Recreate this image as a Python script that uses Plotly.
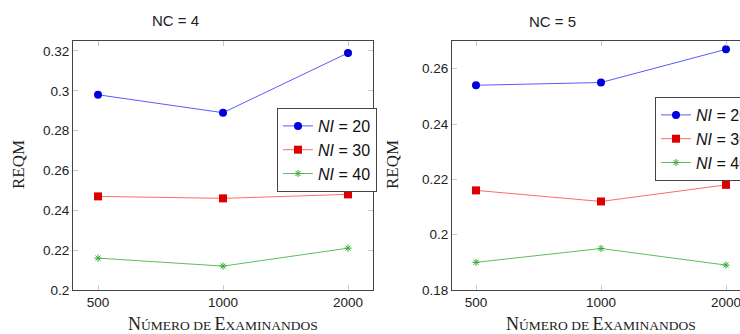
import plotly.graph_objects as go

categories = ["500", "1000", "2000"]
ni_labels = ["20", "30", "40"]

nc4_ni20 = [0.298, 0.289, 0.319]
nc4_ni30 = [0.247, 0.246, 0.248]
nc4_ni40 = [0.216, 0.212, 0.221]

nc5_ni20 = [0.254, 0.255, 0.267]
nc5_ni30 = [0.216, 0.212, 0.218]
nc5_ni40 = [0.190, 0.195, 0.189]

left_yticks = [0.2, 0.22, 0.24, 0.26, 0.28, 0.3, 0.32]
right_yticks = [0.18, 0.2, 0.22, 0.24, 0.26]

W, H = 740, 334
SANS = "Liberation Sans"
SERIF = "Liberation Serif"


def px(x):
    return x / W


def py(y):
    return 1 - y / H


styles = [
    dict(line=dict(color="#5a5aff", width=1),
         marker=dict(symbol="circle", size=8, color="#0000dd")),
    dict(line=dict(color="#ff6a6a", width=1),
         marker=dict(symbol="square", size=8, color="#dd0000")),
    dict(line=dict(color="#5cbf5c", width=1),
         marker=dict(symbol="asterisk-open", size=6, color="#33aa33",
                     line=dict(color="#33aa33", width=1))),
]

fig = go.Figure()
for sub, series, leg in [("", [nc4_ni20, nc4_ni30, nc4_ni40], "legend"),
                         ("2", [nc5_ni20, nc5_ni30, nc5_ni40], "legend2")]:
    for vals, lab, st in zip(series, ni_labels, styles):
        fig.add_trace(go.Scatter(
            x=categories, y=vals, mode="lines+markers",
            name=f"<i>NI</i> = {lab}", xaxis="x" + sub, yaxis="y" + sub,
            legend=leg, line=st["line"], marker=st["marker"]))

ydom = [py(290), py(41)]
tick_common = dict(ticks="inside", ticklen=5, tickcolor="#c8c8c8", tickwidth=1,
                   showgrid=False, zeroline=False, showline=True,
                   linecolor="#444444", linewidth=1,
                   tickfont=dict(family=SANS, size=13.5, color="#222222"))

fig.update_layout(
    width=W, height=H,
    margin=dict(l=0, r=0, t=0, b=0, autoexpand=False),
    paper_bgcolor="white", plot_bgcolor="white",
    xaxis=dict(domain=[px(73), px(373)], type="category", range=[-0.2, 2.2],
               anchor="y", mirror="ticks", **tick_common),
    yaxis=dict(domain=ydom, range=[0.2, 0.325], anchor="x", mirror="ticks",
               tickvals=left_yticks, ticktext=[f"{v:g}" for v in left_yticks],
               **tick_common),
    xaxis2=dict(domain=[px(452), 1.0], type="category", range=[-0.192, 2.112],
                anchor="y2", mirror="ticks", **tick_common),
    yaxis2=dict(domain=ydom, range=[0.18, 0.27], anchor="x2", mirror=False,
                tickvals=right_yticks, ticktext=[f"{v:g}" for v in right_yticks],
                **tick_common),
    legend=dict(x=px(277), y=py(108), xanchor="left", yanchor="top",
                bgcolor="white", bordercolor="#444444", borderwidth=1,
                font=dict(family=SANS, size=16, color="#111111"),
                tracegroupgap=0),
    legend2=dict(x=px(655), y=py(97), xanchor="left", yanchor="top",
                 bgcolor="white", bordercolor="#444444", borderwidth=1,
                 font=dict(family=SANS, size=16, color="#111111"),
                 tracegroupgap=0),
)

xtitle = ('N<span style="font-size:13.5px">ÚMERO DE </span>'
          'E<span style="font-size:13.5px">XAMINANDOS</span>')

annots = [
    dict(text="NC = 4", x=px(175), y=py(20), font=dict(family=SANS, size=15)),
    dict(text="NC = 5", x=px(552), y=py(21), font=dict(family=SANS, size=15)),
    dict(text="REQM", x=px(18), y=py(165), textangle=-90,
         font=dict(family=SERIF, size=17)),
    dict(text="REQM", x=px(392), y=py(165), textangle=-90,
         font=dict(family=SERIF, size=17)),
    dict(text=xtitle, x=px(223), y=py(324), font=dict(family=SERIF, size=18)),
    dict(text=xtitle, x=px(601), y=py(324), font=dict(family=SERIF, size=18)),
]
for a in annots:
    a.update(xref="paper", yref="paper", showarrow=False,
             xanchor="center", yanchor="middle")
    a["font"]["color"] = "#222222"
fig.update_layout(annotations=annots)

# remove the page's default 8px body margin so the figure fills the window
fig.write_html(
    "out.html",
    config={"displayModeBar": False},
    post_script=("document.documentElement.style.overflow='hidden';"
                 "document.body.style.margin='0';"
                 "document.body.style.overflow='hidden';"),
)
